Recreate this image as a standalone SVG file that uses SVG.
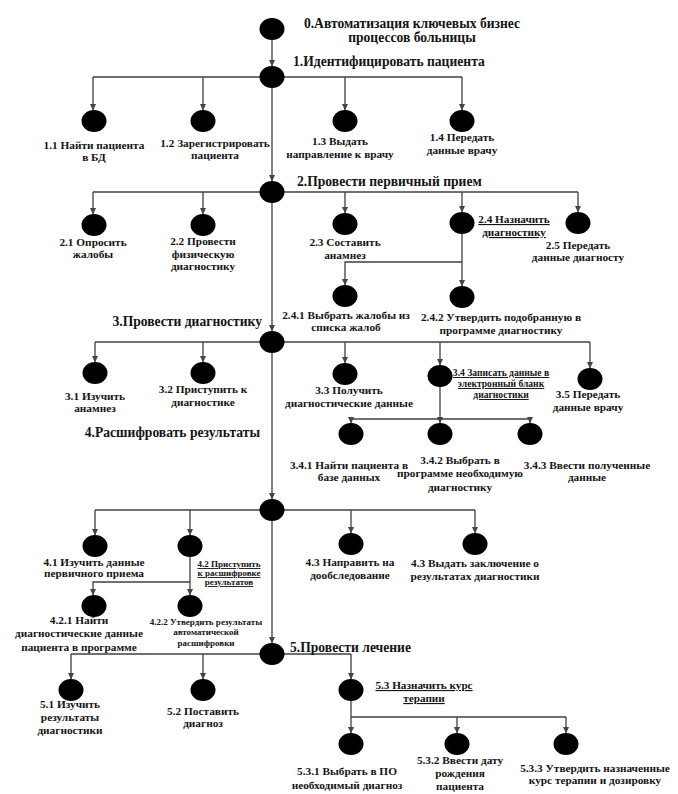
<svg xmlns="http://www.w3.org/2000/svg" width="678" height="794" viewBox="0 0 678 794">
<defs>
<marker id="ar" markerWidth="7" markerHeight="7" refX="6" refY="3.5" orient="auto" markerUnits="userSpaceOnUse">
<path d="M0,0.5 L6.5,3.5 L0,6.5 z" fill="#444"/>
</marker>
</defs>
<style>
text{font-family:"Liberation Serif","Times New Roman",serif;font-weight:bold;fill:#141414;}
.h{font-size:13.6px;}
.l{font-size:11.3px;text-anchor:middle;}
.m{font-size:9px;text-anchor:middle;}
.s{font-size:9.6px;text-anchor:middle;text-decoration:underline;}
.s2{font-size:9px;text-anchor:middle;text-decoration:underline;}
.u{font-size:11.2px;text-anchor:middle;text-decoration:underline;}
.nd{fill:#000;}
.c line,.c path{stroke:#404040;stroke-width:1.3;fill:none;}
.a{marker-end:url(#ar);}
</style>
<rect width="678" height="794" fill="#fff"/>
<g class="c" id="connectors">
<line class="a" x1="272" y1="39" x2="272" y2="66"/>
<line x1="93" y1="77" x2="462" y2="77"/>
<line class="a" x1="93" y1="77" x2="93" y2="110"/>
<line class="a" x1="203" y1="77" x2="203" y2="110"/>
<line class="a" x1="345" y1="77" x2="345" y2="110"/>
<line class="a" x1="462" y1="77" x2="462" y2="110"/>
<line class="a" x1="272" y1="88" x2="272" y2="181"/>
<line x1="93" y1="192" x2="578" y2="192"/>
<line class="a" x1="93" y1="192" x2="93" y2="214"/>
<line class="a" x1="203" y1="192" x2="203" y2="214"/>
<line class="a" x1="345" y1="192" x2="345" y2="213"/>
<line class="a" x1="462" y1="192" x2="462" y2="212"/>
<line class="a" x1="578" y1="192" x2="578" y2="212"/>
<line class="a" x1="462" y1="234" x2="462" y2="286"/>
<path class="a" d="M462,262 H345 V285"/>
<line class="a" x1="272" y1="203" x2="272" y2="331"/>
<line x1="95" y1="342" x2="590" y2="342"/>
<line class="a" x1="95" y1="342" x2="95" y2="362"/>
<line class="a" x1="203" y1="342" x2="203" y2="362"/>
<line class="a" x1="345" y1="342" x2="345" y2="363"/>
<line class="a" x1="440" y1="342" x2="440" y2="365"/>
<line class="a" x1="590" y1="342" x2="590" y2="368"/>
<line class="a" x1="440" y1="387" x2="440" y2="423"/>
<line x1="351" y1="419" x2="530" y2="419"/>
<line class="a" x1="351" y1="419" x2="351" y2="423"/>
<line class="a" x1="530" y1="419" x2="530" y2="423"/>
<line class="a" x1="272" y1="353" x2="272" y2="499"/>
<line x1="95" y1="510" x2="475" y2="510"/>
<line class="a" x1="95" y1="510" x2="95" y2="535"/>
<line class="a" x1="190" y1="510" x2="190" y2="535"/>
<line class="a" x1="351" y1="510" x2="351" y2="533"/>
<line class="a" x1="475" y1="510" x2="475" y2="533"/>
<line class="a" x1="190" y1="557" x2="190" y2="595"/>
<path class="a" d="M190,582 H93 V595"/>
<line class="a" x1="272" y1="521" x2="272" y2="643"/>
<line x1="71" y1="654" x2="351" y2="654"/>
<line class="a" x1="71" y1="654" x2="71" y2="679"/>
<line class="a" x1="203" y1="654" x2="203" y2="679"/>
<line class="a" x1="351" y1="654" x2="351" y2="679"/>
<line class="a" x1="351" y1="701" x2="351" y2="733"/>
<line x1="351" y1="717" x2="566" y2="717"/>
<line class="a" x1="457" y1="717" x2="457" y2="733"/>
<line class="a" x1="566" y1="717" x2="566" y2="733"/>
</g>
<g id="n0"><ellipse class="nd" cx="272" cy="29" rx="12.5" ry="11"/>
<text class="h" x="412" y="28" text-anchor="middle">0.Автоматизация ключевых бизнес</text>
<text class="h" x="412" y="42" text-anchor="middle">процессов больницы</text></g>
<g id="n1"><ellipse class="nd" cx="272" cy="77" rx="12.5" ry="11"/>
<text class="h" x="293" y="66">1.Идентифицировать пациента</text></g>
<g id="n1_1"><ellipse class="nd" cx="94" cy="121" rx="12.5" ry="11"/>
<text class="l" x="94" y="149">1.1 Найти пациента</text><text class="l" x="94" y="161">в БД</text></g>
<g id="n1_2"><ellipse class="nd" cx="203" cy="121" rx="12.5" ry="11"/>
<text class="l" x="215" y="147">1.2 Зарегистрировать</text><text class="l" x="215" y="159">пациента</text></g>
<g id="n1_3"><ellipse class="nd" cx="345" cy="121" rx="12.5" ry="11"/>
<text class="l" x="340" y="145">1.3 Выдать</text><text class="l" x="340" y="158">направление к врачу</text></g>
<g id="n1_4"><ellipse class="nd" cx="462" cy="121" rx="12.5" ry="11"/>
<text class="l" x="462" y="141">1.4 Передать</text><text class="l" x="462" y="154">данные врачу</text></g>
<g id="n2"><ellipse class="nd" cx="272" cy="192" rx="12.5" ry="11"/>
<text class="h" x="297" y="186">2.Провести первичный прием</text></g>
<g id="n2_1"><ellipse class="nd" cx="94" cy="225" rx="12.5" ry="11"/>
<text class="l" x="93" y="246">2.1 Опросить</text><text class="l" x="93" y="258">жалобы</text></g>
<g id="n2_2"><ellipse class="nd" cx="203" cy="225" rx="12.5" ry="11"/>
<text class="l" x="203" y="245">2.2 Провести</text><text class="l" x="203" y="258">физическую</text><text class="l" x="203" y="270">диагностику</text></g>
<g id="n2_3"><ellipse class="nd" cx="345" cy="224" rx="12.5" ry="11"/>
<text class="l" x="345" y="246">2.3 Составить</text><text class="l" x="345" y="259">анамнез</text></g>
<g id="n2_4"><ellipse class="nd" cx="462" cy="223" rx="12.5" ry="11"/>
<text class="u" x="514" y="223">2.4 Назначить</text><text class="u" x="514" y="236">диагностику</text></g>
<g id="n2_5"><ellipse class="nd" cx="578" cy="223" rx="12.5" ry="11"/>
<text class="l" x="578" y="249">2.5 Передать</text><text class="l" x="578" y="261">данные диагносту</text></g>
<g id="n2_4_1"><ellipse class="nd" cx="345" cy="296" rx="12.5" ry="11"/>
<text class="l" x="346" y="319">2.4.1 Выбрать жалобы из</text><text class="l" x="346" y="331">списка жалоб</text></g>
<g id="n2_4_2"><ellipse class="nd" cx="462" cy="297" rx="12.5" ry="11"/>
<text class="l" x="501" y="321">2.4.2 Утвердить подобранную в</text><text class="l" x="501" y="334">программе диагностику</text></g>
<g id="n3"><ellipse class="nd" cx="272" cy="342" rx="12.5" ry="11"/>
<text class="h" x="262" y="326" text-anchor="end">3.Провести диагностику</text></g>
<g id="n3_1"><ellipse class="nd" cx="95" cy="373" rx="12.5" ry="11"/>
<text class="l" x="95" y="400">3.1 Изучить</text><text class="l" x="95" y="412">анамнез</text></g>
<g id="n3_2"><ellipse class="nd" cx="203" cy="373" rx="12.5" ry="11"/>
<text class="l" x="203" y="393">3.2 Приступить к</text><text class="l" x="203" y="406">диагностике</text></g>
<g id="n3_3"><ellipse class="nd" cx="345" cy="374" rx="12.5" ry="11"/>
<text class="l" x="349" y="394">3.3 Получить</text><text class="l" x="349" y="407">диагностические данные</text></g>
<g id="n3_4"><ellipse class="nd" cx="440" cy="376" rx="12.5" ry="11"/>
<text class="s" x="501" y="376">3.4 Записать данные в</text><text class="s" x="501" y="387">электронный бланк</text><text class="s" x="501" y="398">диагностики</text></g>
<g id="n3_5"><ellipse class="nd" cx="590" cy="379" rx="12.5" ry="11"/>
<text class="l" x="588" y="398">3.5 Передать</text><text class="l" x="588" y="411">данные врачу</text></g>
<g id="n3_4_1"><ellipse class="nd" cx="351" cy="434" rx="12.5" ry="11"/>
<text class="l" x="349" y="469">3.4.1 Найти пациента в</text><text class="l" x="349" y="481">базе данных</text></g>
<g id="n3_4_2"><ellipse class="nd" cx="440" cy="434" rx="12.5" ry="11"/>
<text class="l" x="460" y="464">3.4.2 Выбрать в</text><text class="l" x="460" y="477">программе необходимую</text><text class="l" x="460" y="491">диагностику</text></g>
<g id="n3_4_3"><ellipse class="nd" cx="530" cy="434" rx="12.5" ry="11"/>
<text class="l" x="587" y="469">3.4.3 Ввести полученные</text><text class="l" x="587" y="481">данные</text></g>
<g id="n4"><ellipse class="nd" cx="272" cy="510" rx="12.5" ry="11"/>
<text class="h" x="260" y="437" text-anchor="end">4.Расшифровать результаты</text></g>
<g id="n4_1"><ellipse class="nd" cx="95" cy="546" rx="12.5" ry="11"/>
<text class="l" x="94" y="566">4.1 Изучить данные</text><text class="l" x="94" y="577">первичного приема</text></g>
<g id="n4_2"><ellipse class="nd" cx="190" cy="546" rx="12.5" ry="11"/>
<text class="s2" x="229" y="567">4.2 Приступить</text><text class="s2" x="229" y="576">к расшифровке</text><text class="s2" x="229" y="585">результатов</text></g>
<g id="n4_3a"><ellipse class="nd" cx="351" cy="544" rx="12.5" ry="11"/>
<text class="l" x="350" y="566">4.3 Направить на</text><text class="l" x="350" y="579">дообследование</text></g>
<g id="n4_3b"><ellipse class="nd" cx="475" cy="544" rx="12.5" ry="11"/>
<text class="l" x="475" y="567">4.3 Выдать заключение о</text><text class="l" x="475" y="580">результатах диагностики</text></g>
<g id="n4_2_1"><ellipse class="nd" cx="94" cy="606" rx="12.5" ry="11"/>
<text class="l" x="79" y="624">4.2.1 Найти</text><text class="l" x="79" y="637">диагностические данные</text><text class="l" x="79" y="651">пациента в программе</text></g>
<g id="n4_2_2"><ellipse class="nd" cx="190" cy="606" rx="12.5" ry="11"/>
<text class="m" x="206" y="625">4.2.2 Утвердить результаты</text><text class="m" x="206" y="635">автоматической</text><text class="m" x="206" y="646">расшифровки</text></g>
<g id="n5"><ellipse class="nd" cx="272" cy="654" rx="12.5" ry="11"/>
<text class="h" x="290" y="652">5.Провести лечение</text></g>
<g id="n5_1"><ellipse class="nd" cx="71" cy="690" rx="12.5" ry="11"/>
<text class="l" x="70" y="708">5.1 Изучить</text><text class="l" x="70" y="721">результаты</text><text class="l" x="70" y="734">диагностики</text></g>
<g id="n5_2"><ellipse class="nd" cx="203" cy="690" rx="12.5" ry="11"/>
<text class="l" x="203" y="715">5.2 Поставить</text><text class="l" x="203" y="727">диагноз</text></g>
<g id="n5_3"><ellipse class="nd" cx="351" cy="690" rx="12.5" ry="11"/>
<text class="u" x="424" y="689">5.3 Назначить курс</text><text class="u" x="424" y="702">терапии</text></g>
<g id="n5_3_1"><ellipse class="nd" cx="351" cy="744" rx="12.5" ry="11"/>
<text class="l" x="347" y="775">5.3.1 Выбрать в ПО</text><text class="l" x="347" y="789">необходимый диагноз</text></g>
<g id="n5_3_2"><ellipse class="nd" cx="457" cy="744" rx="12.5" ry="11"/>
<text class="l" x="460" y="764">5.3.2 Ввести дату</text><text class="l" x="460" y="777">рождения</text><text class="l" x="460" y="790">пациента</text></g>
<g id="n5_3_3"><ellipse class="nd" cx="566" cy="744" rx="12.5" ry="11"/>
<text class="l" x="595" y="772">5.3.3 Утвердить назначенные</text><text class="l" x="595" y="784">курс терапии и дозировку</text></g>
</svg>
